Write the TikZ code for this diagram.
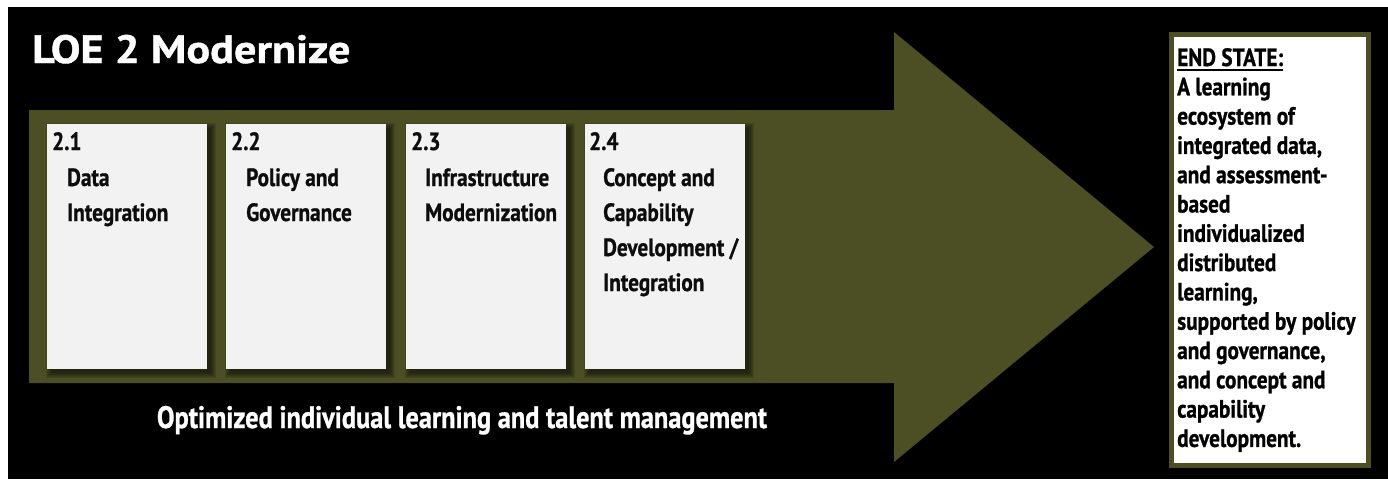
\documentclass[tikz,border=0pt]{standalone}
\usepackage{fontspec}
\newfontfamily\condf{PT Sans}[FakeStretch=0.85,FakeBold=0.9]
\newfontfamily\titlef{PT Sans}[FakeStretch=1.12,FakeBold=1.0]
\definecolor{loeolive}{HTML}{4B4F23}
\definecolor{cardgray}{HTML}{F2F2F2}
\definecolor{cardtext}{HTML}{0D0D0D}
\begin{document}
\begin{tikzpicture}[x=1pt,y=-1pt,
  cardbox/.style={fill=cardgray, draw=none, minimum width=160pt, minimum height=245pt, inner sep=0pt, anchor=north west},
  cardnum/.style={anchor=base west, inner sep=0pt, text=cardtext, font=\condf\bfseries\fontsize{25}{30}\selectfont},
  cardline/.style={anchor=base west, inner sep=0pt, text=cardtext, font=\condf\bfseries\fontsize{25}{30}\selectfont},
  endtext/.style={anchor=base west, inner sep=0pt, text=black, font=\condf\bfseries\fontsize{25}{30}\selectfont},
  titletext/.style={anchor=base west, inner sep=0pt, text=white, font=\titlef\bfseries\fontsize{39.5}{46}\selectfont},
  bottomtext/.style={anchor=base, inner sep=0pt, text=white, font=\condf\bfseries\fontsize{31}{38}\selectfont},
  endbox/.style={draw=loeolive, line width=5pt, fill=white, minimum width=197pt, minimum height=431pt, inner sep=0pt, anchor=north west}
]
\useasboundingbox (0,0) rectangle (1388,479);
\fill[white] (0,0) rectangle (1388,479);
\fill[black] (8,7) rectangle (1388,479);

% big arrow
\fill[loeolive] (29,110) -- (894,110) -- (894,32) -- (1154,247) -- (894,462) -- (894,383) -- (29,383) -- cycle;

% title
\node[titletext] (title) at (32,63) {LOE 2 Modernize};

% card shadows
\foreach \x in {47,226,406,585} {
  \foreach \r in {0,...,5}
    \fill[black, opacity=0.11] (\x+4-\r, 128-\r) rectangle (\x+164+\r, 373+\r);
}

% cards
\node[cardbox] (c1) at (47,124) {};
\node[cardbox] (c2) at (226,124) {};
\node[cardbox] (c3) at (406,124) {};
\node[cardbox] (c4) at (585,124) {};

% card 1
\node[cardnum] (n1) at (52,150) {2.1};
\node[cardline] (t1a) at (67,186) {Data};
\node[cardline] (t1b) at (67,221) {Integration};
% card 2
\node[cardnum] (n2) at (231,150) {2.2};
\node[cardline] (t2a) at (246,186) {Policy and};
\node[cardline] (t2b) at (246,221) {Governance};
% card 3
\node[cardnum] (n3) at (411,150) {2.3};
\node[cardline] (t3a) at (425,186) {Infrastructure};
\node[cardline] (t3b) at (425,221) {Modernization};
% card 4
\node[cardnum] (n4) at (589,150) {2.4};
\node[cardline] (t4a) at (603,186) {Concept and};
\node[cardline] (t4b) at (603,221) {Capability};
\node[cardline] (t4c) at (603,256) {Development /};
\node[cardline] (t4d) at (603,291) {Integration};

% bottom caption
\node[bottomtext] (opt) at (462,428) {Optimized individual learning and talent management};

% end state box
\node[endbox] (endst) at (1168.5,31.5) {};
\foreach \t [count=\i from 0] in {{END STATE:}, {A learning}, {ecosystem of}, {integrated data,}, {and assessment-}, {based}, {individualized}, {distributed}, {learning,}, {supported by policy}, {and governance,}, {and concept and}, {capability}, {development.}}
  \node[endtext] (es\i) at (1177, {66+29.3*\i}) {\t};
\draw[line width=1.8pt, black] ([yshift=-4pt]es0.base west) -- ([yshift=-4pt]es0.base east);
\end{tikzpicture}
\end{document}
